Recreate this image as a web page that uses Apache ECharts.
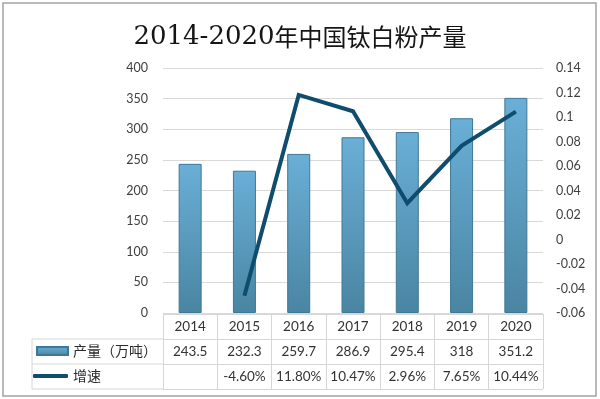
<!DOCTYPE html>
<html>
<head>
<meta charset="utf-8">
<script src="https://cdn.jsdelivr.net/npm/echarts@6/dist/echarts.min.js"></script>
<style>
html,body{margin:0;padding:0;background:#fff;}
#c{width:600px;height:399px;}
</style>
</head>
<body>
<div id="c"></div>
<script>
var years = ['2014','2015','2016','2017','2018','2019','2020'];
var production = [243.5, 232.3, 259.7, 286.9, 295.4, 318, 351.2];
var growthPct = [null, -4.60, 11.80, 10.47, 2.96, 7.65, 10.44];
var leftTicks = {min: 0, max: 400, interval: 50};
var rightTicks = {min: -0.06, max: 0.14, interval: 0.02};
var tableRows = ['header', '产量（万吨）', '增速'];

var growth = growthPct.map(function (v) { return v === null ? null : v / 100; });
var growthText = growthPct.map(function (v) { return v === null ? '' : v.toFixed(2) + '%'; });

var chart = echarts.init(document.getElementById('c'), null, {renderer: 'canvas'});
var txtFont = "Lato, 'Noto Sans CJK SC', sans-serif";
var barGrad = new echarts.graphic.LinearGradient(0, 0, 0, 1, [
  {offset: 0, color: '#6aafd7'},
  {offset: 1, color: '#4a85a2'}
]);
var lineColor = '#0f4c6d';

chart.setOption({
  animation: false,
  backgroundColor: '#fff',
  title: {
    text: '{d|2014-2020}{c|年中国钛白粉产量}',
    left: 'center',
    top: 19,
    textStyle: {
      fontWeight: 'normal',
      rich: {
        d: {fontFamily: "'DejaVu Serif', serif", fontSize: 26, fontWeight: 'normal', color: '#151515'},
        c: {fontFamily: "'Noto Sans CJK SC', sans-serif", fontSize: 24, fontWeight: 'normal', color: '#151515'}
      }
    }
  },
  legend: [
    {
      data: [{name: tableRows[1], icon: 'rect'}], left: 36, top: 344, padding: 0,
      itemWidth: 31, itemHeight: 8, itemGap: 0,
      textStyle: {fontFamily: "'Noto Sans CJK SC', sans-serif", fontSize: 14, color: '#2a2a2a'}
    },
    {
      data: [{name: tableRows[2], icon: 'roundRect', itemStyle: {color: lineColor}}], left: 33, top: 369, padding: 0,
      itemWidth: 35, itemHeight: 4, itemGap: 0,
      textStyle: {fontFamily: "'Noto Sans CJK SC', sans-serif", fontSize: 14, color: '#2a2a2a'}
    }
  ],
  grid: [
    {left: 163, right: 57, top: 68, bottom: 86},
    {left: 163, right: 57, top: 314, bottom: 10}
  ],
  xAxis: [
    {
      type: 'category', gridIndex: 0, data: years,
      axisLine: {show: false}, axisTick: {show: false},
      axisLabel: {
        margin: 1, interval: 0,
        formatter: function (v, i) {
          return '{t|' + v + '}\n{t|' + production[i] + '}\n{t|' + growthText[i] + '}';
        },
        rich: {t: {fontFamily: txtFont, fontSize: 13.5, color: '#333', lineHeight: 25}}
      }
    },
    {
      type: 'category', gridIndex: 1, data: years,
      axisLine: {show: false}, axisTick: {show: false}, axisLabel: {show: false},
      splitLine: {show: true, lineStyle: {color: '#d6d6d6', width: 1}}
    }
  ],
  yAxis: [
    {
      type: 'value', gridIndex: 0, position: 'left',
      min: leftTicks.min, max: leftTicks.max, interval: leftTicks.interval,
      axisLine: {show: false}, axisTick: {show: false},
      axisLabel: {margin: 15, fontFamily: txtFont, fontSize: 12.5, color: '#404040'},
      splitLine: {show: true, lineStyle: {color: '#d9d9d9', width: 1}}
    },
    {
      type: 'value', gridIndex: 0, position: 'right',
      min: rightTicks.min, max: rightTicks.max, interval: rightTicks.interval,
      axisLine: {show: false}, axisTick: {show: false},
      axisLabel: {margin: 13, fontFamily: txtFont, fontSize: 12.5, color: '#404040'},
      splitLine: {show: false}
    },
    {
      type: 'category', gridIndex: 1, data: tableRows, inverse: true,
      axisLine: {show: false}, axisTick: {show: false}, axisLabel: {show: false},
      splitLine: {show: true, lineStyle: {color: '#d6d6d6', width: 1}}
    }
  ],
  graphic: [
    {
      type: 'polyline', silent: true,
      shape: {points: [[163, 339], [32, 339], [32, 389], [163, 389]]},
      style: {stroke: '#d6d6d6', lineWidth: 1, fill: null}
    },
    {
      type: 'line', silent: true,
      shape: {x1: 32, y1: 364, x2: 163, y2: 364},
      style: {stroke: '#d6d6d6', lineWidth: 1}
    },
    {
      type: 'rect', silent: true,
      shape: {x: 3, y: 3, width: 593, height: 393},
      style: {stroke: '#a3a3a3', lineWidth: 1.5, fill: null}
    }
  ],
  series: [
    {
      name: tableRows[1], type: 'bar', xAxisIndex: 0, yAxisIndex: 0,
      data: production, barWidth: 23,
      itemStyle: {color: barGrad, borderColor: '#3f7896', borderWidth: 1}
    },
    {
      name: tableRows[2], type: 'line', xAxisIndex: 0, yAxisIndex: 1,
      data: growth, symbol: 'none',
      lineStyle: {color: lineColor, width: 4, join: 'miter'},
      itemStyle: {color: lineColor}
    }
  ]
});
</script>
</body>
</html>
